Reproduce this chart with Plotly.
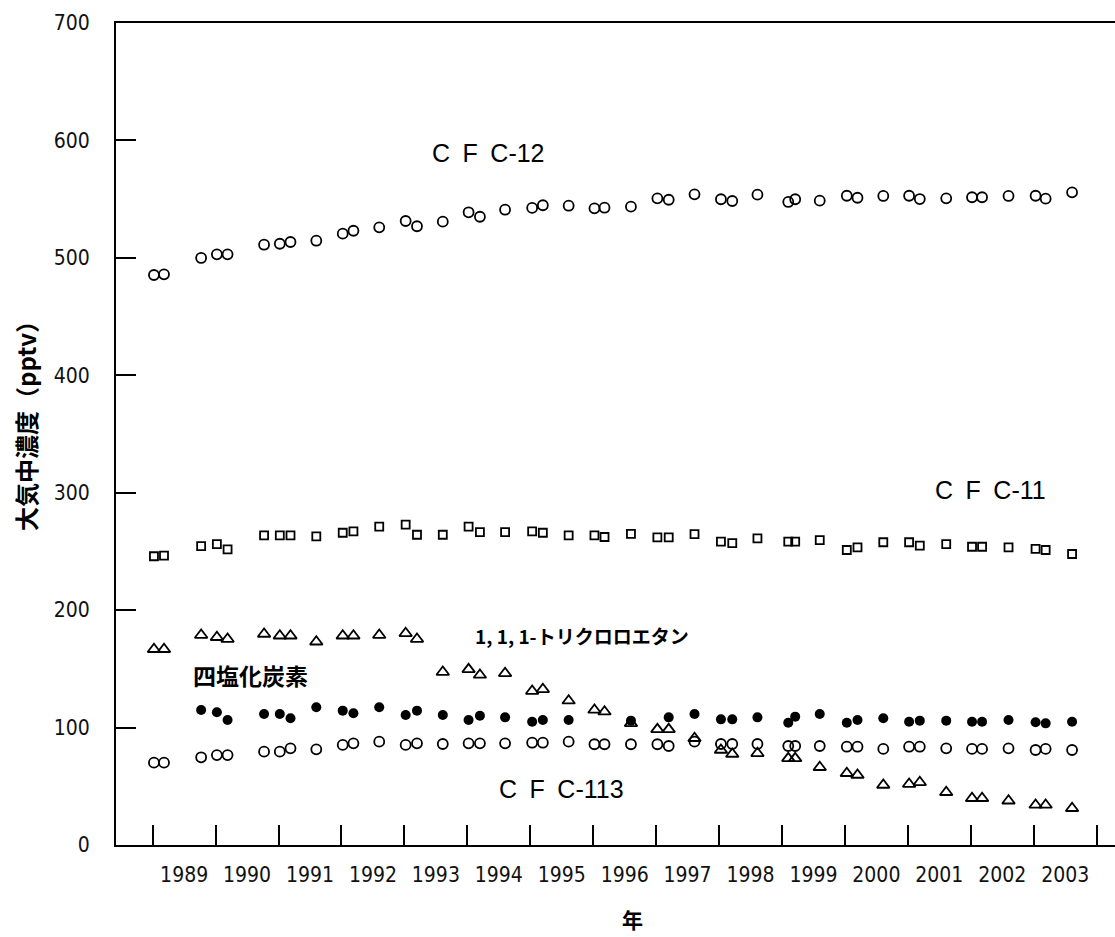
import plotly.graph_objects as go

# sampling times (decimal year)
t = [1989.02, 1989.18, 1989.77, 1990.02, 1990.19, 1990.77, 1991.02, 1991.19, 1991.60,
     1992.02, 1992.19, 1992.60, 1993.02, 1993.20, 1993.61, 1994.02, 1994.20, 1994.60,
     1995.03, 1995.20, 1995.61, 1996.02, 1996.18, 1996.60, 1997.02, 1997.20, 1997.61,
     1998.03, 1998.21, 1998.61, 1999.10, 1999.21, 1999.60, 2000.03, 2000.20, 2000.61,
     2001.02, 2001.19, 2001.61, 2002.02, 2002.18, 2002.60, 2003.03, 2003.19, 2003.61]

cfc12 = [485.4, 486.0, 499.9, 503.0, 503.0, 511.2, 512.0, 513.5, 514.6,
         520.6, 523.1, 526.0, 531.4, 526.9, 530.8, 538.8, 535.0, 541.0,
         542.5, 544.8, 544.4, 542.2, 542.7, 543.6, 550.7, 549.5, 554.1,
         549.9, 548.4, 553.8, 547.6, 549.9, 548.7, 552.9, 551.2, 552.7,
         552.9, 550.1, 550.7, 551.6, 551.6, 552.7, 552.9, 550.4, 555.8]

cfc11 = [245.9, 246.4, 254.6, 256.3, 251.8, 263.7, 263.7, 263.7, 262.9,
         265.9, 267.1, 271.1, 272.8, 264.2, 264.2, 271.1, 266.5, 266.5,
         267.1, 265.9, 263.7, 263.7, 262.3, 265.0, 262.0, 262.0, 264.8,
         258.3, 257.0, 261.2, 258.3, 258.3, 259.7, 251.2, 253.5, 257.8,
         257.8, 254.9, 256.3, 254.0, 254.0, 253.5, 252.1, 251.2, 247.8]

tce = [166.7, 166.7, 178.8, 176.9, 175.4, 179.7, 178.2, 178.2, 173.1,
       178.2, 178.2, 178.8, 180.3, 175.4, 147.3, 149.6, 144.8, 146.2,
       131.1, 132.6, 122.9, 115.0, 113.5, 103.6, 98.5, 98.5, 90.9,
       80.9, 77.5, 78.1, 73.8, 73.8, 66.2, 61.1, 59.6, 51.1,
       51.9, 53.4, 44.9, 39.8, 39.8, 37.7, 34.1, 34.1, 31.3]

ccl4 = [None, None, 115.0, 113.0, 106.4, 111.6, 111.6, 107.9, 117.3,
        114.4, 112.2, 117.3, 110.7, 114.4, 110.7, 106.4, 110.1, 108.7,
        105.0, 106.4, 106.4, None, None, 105.9, None, 108.7, 111.6,
        107.0, 107.0, 108.7, 104.1, 109.3, 111.6, 104.1, 106.4, 107.9,
        105.0, 105.9, 105.9, 105.0, 105.0, 106.4, 104.5, 103.6, 105.0]

cfc113 = [70.1, 70.1, 74.7, 76.6, 76.6, 79.5, 79.5, 82.3, 81.5,
          85.2, 86.6, 88.0, 85.2, 86.6, 86.0, 86.6, 86.6, 86.6,
          87.1, 87.1, 88.0, 85.8, 85.8, 85.8, 85.8, 84.3, 88.0,
          86.0, 86.0, 86.0, 84.3, 84.3, 84.3, 83.7, 83.7, 81.8,
          83.7, 83.7, 82.3, 81.8, 81.8, 82.3, 80.9, 81.8, 80.9]

year_labels = [str(y) for y in range(1989, 2004)]
year_label_pos = [y + 0.5 for y in range(1989, 2004)]
year_ticks = list(range(1989, 2005))
y_ticks = [0, 100, 200, 300, 400, 500, 600, 700]

labels = [
    ("C\u2002F\u2002C-12", 1994.33, 589),
    ("C\u2002F\u2002C-11", 2002.32, 302),
    ("C\u2002F\u2002C-113", 1995.49, 48),
]
jp_labels = [
    ("1, 1, 1-トリクロロエタン", 1995.83, 178, 19),
    ("四塩化炭素", 1990.55, 145, 23),
]

fig = go.Figure()
line_w = 1.8
fig.add_trace(go.Scatter(x=t, y=cfc12, mode="markers",
                         marker=dict(symbol="circle-open", size=10, color="black", line=dict(width=line_w))))
fig.add_trace(go.Scatter(x=t, y=cfc11, mode="markers",
                         marker=dict(symbol="square-open", size=8, color="black", line=dict(width=line_w))))
fig.add_trace(go.Scatter(x=t, y=cfc113, mode="markers",
                         marker=dict(symbol="circle-open", size=10, color="black", line=dict(width=line_w))))
fig.add_trace(go.Scatter(x=t, y=tce, mode="markers",
                         marker=dict(symbol="triangle-up-open", size=11, color="black", line=dict(width=line_w))))
fig.add_trace(go.Scatter(x=t, y=ccl4, mode="markers",
                         marker=dict(symbol="circle", size=10, color="black")))

tick_font = dict(family="DejaVu Sans Condensed, Liberation Sans Narrow, sans-serif", size=21, color="#111")

for txt, x, y in labels:
    fig.add_annotation(x=x, y=y, text=txt, showarrow=False,
                       font=dict(family="Liberation Sans, Arial, sans-serif", size=25, color="black"))
for txt, x, y, s in jp_labels:
    fig.add_annotation(x=x, y=y, text="<b>" + txt + "</b>", showarrow=False,
                       font=dict(family="Noto Sans CJK JP", size=s, color="black"))

fig.add_annotation(xref="paper", yref="paper", x=(632 - 116) / 999, y=-(919 - 845) / 822,
                   xanchor="center", yanchor="middle",
                   text="<b>年</b>", showarrow=False,
                   font=dict(family="Noto Sans CJK JP", size=21, color="black"))
fig.add_annotation(xref="paper", yref="paper", x=-(116 - 25) / 999, y=(845 - 420) / 822,
                   xanchor="center", yanchor="middle",
                   text="<b>大気中濃度（pptv）</b>", showarrow=False, textangle=-90,
                   font=dict(family="Noto Sans CJK JP", size=24, color="black"))

fig.update_layout(
    width=1115, height=937,
    margin=dict(l=116, r=0, t=23, b=92),
    paper_bgcolor="white", plot_bgcolor="white",
    showlegend=False,
    xaxis=dict(range=[1988.417, 2004.292], tickmode="array", tickvals=year_label_pos,
               ticktext=year_labels, ticks="", showgrid=False, zeroline=False,
               showline=True, linecolor="black", linewidth=2, mirror=True,
               tickfont=tick_font, ticklabelstandoff=10,
               minor=dict(tickmode="array", tickvals=year_ticks, ticks="inside",
                          ticklen=20, tickwidth=2, tickcolor="black", showgrid=False)),
    yaxis=dict(range=[0, 700], tickmode="array", tickvals=y_ticks, ticks="inside",
               ticklen=20, tickwidth=2, tickcolor="black", showgrid=False, zeroline=False,
               showline=True, linecolor="black", linewidth=2, mirror=False,
               tickfont=tick_font, ticklabelstandoff=20),
)

fig.write_html("out.html")
